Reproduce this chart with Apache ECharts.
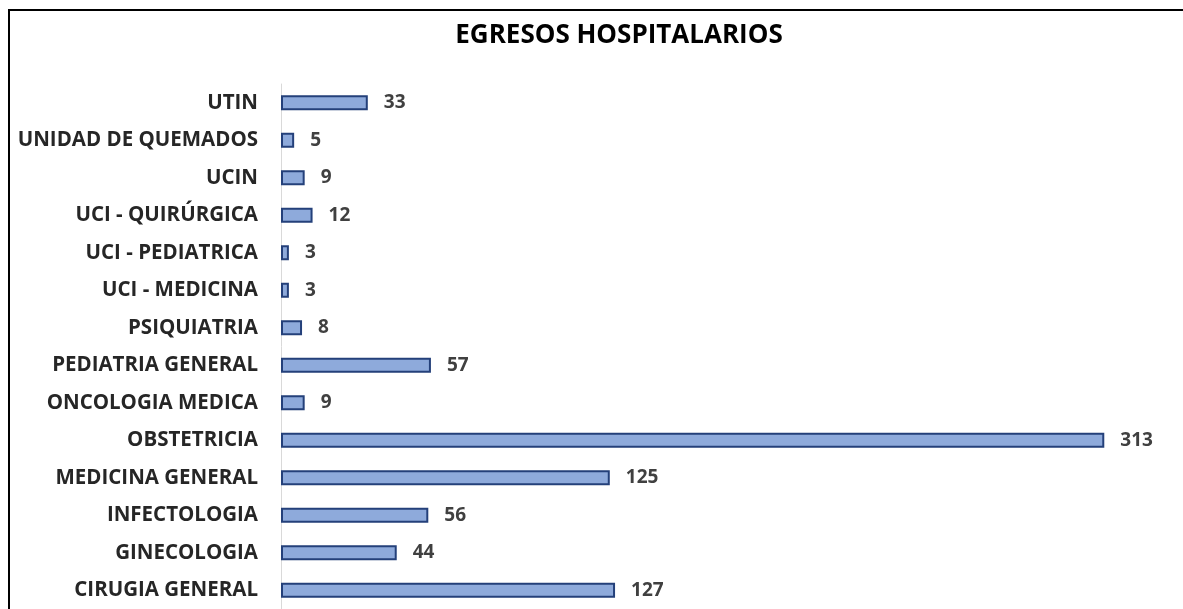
<!DOCTYPE html>
<html>
<head>
<meta charset="utf-8">
<script src="https://cdn.jsdelivr.net/npm/echarts@6/dist/echarts.min.js"></script>
<style>
  html, body { margin: 0; padding: 0; background: #fff; }
  #chart { width: 1183px; height: 609px; }
</style>
</head>
<body>
<div id="chart"></div>
<script>
// categories bottom -> top (ECharts category axis grows upward)
const categories = [
  'CIRUGIA GENERAL', 'GINECOLOGIA', 'INFECTOLOGIA', 'MEDICINA GENERAL',
  'OBSTETRICIA', 'ONCOLOGIA MEDICA', 'PEDIATRIA GENERAL', 'PSIQUIATRIA',
  'UCI - MEDICINA', 'UCI - PEDIATRICA', 'UCI - QUIRÚRGICA', 'UCIN',
  'UNIDAD DE QUEMADOS', 'UTIN'
]
const egresos = [127, 44, 56, 125, 313, 9, 57, 8, 3, 3, 12, 9, 5, 33]

const font = '"Open Sans", Lato, sans-serif'
const myChart = echarts.init(document.getElementById('chart'))

const option = {
  animation: false,
  title: {
    text: 'EGRESOS HOSPITALARIOS',
    left: 614,
    textAlign: 'center',
    top: 18,
    textStyle: { fontFamily: font, fontSize: 26, fontWeight: 'bold', color: '#000' }
  },
  graphic: [{
    type: 'rect',
    shape: { x: 9, y: 10, width: 1400, height: 800 },
    style: { fill: 'none', stroke: '#000', lineWidth: 2 },
    silent: true
  }],
  grid: {
    left: 281,
    top: 84,
    width: 868,
    height: 530
  },
  xAxis: {
    type: 'value',
    min: 0,
    max: 330,
    show: false
  },
  yAxis: {
    type: 'category',
    data: categories,
    axisLine: { show: true, lineStyle: { color: '#d9d9d9', width: 1 } },
    axisTick: { show: false },
    axisLabel: {
      margin: 23,
      fontFamily: font,
      fontSize: 20.5,
      fontWeight: 'bold',
      color: '#262626'
    }
  },
  series: [{
    type: 'bar',
    data: egresos,
    barWidth: 15,
    itemStyle: {
      color: '#8eaadb',
      borderColor: '#24407a',
      borderWidth: 2
    },
    label: {
      show: true,
      position: 'right',
      distance: 16,
      fontFamily: font,
      fontSize: 19,
      fontWeight: 'bold',
      color: '#404040'
    }
  }]
}

myChart.setOption(option)
</script>
</body>
</html>
